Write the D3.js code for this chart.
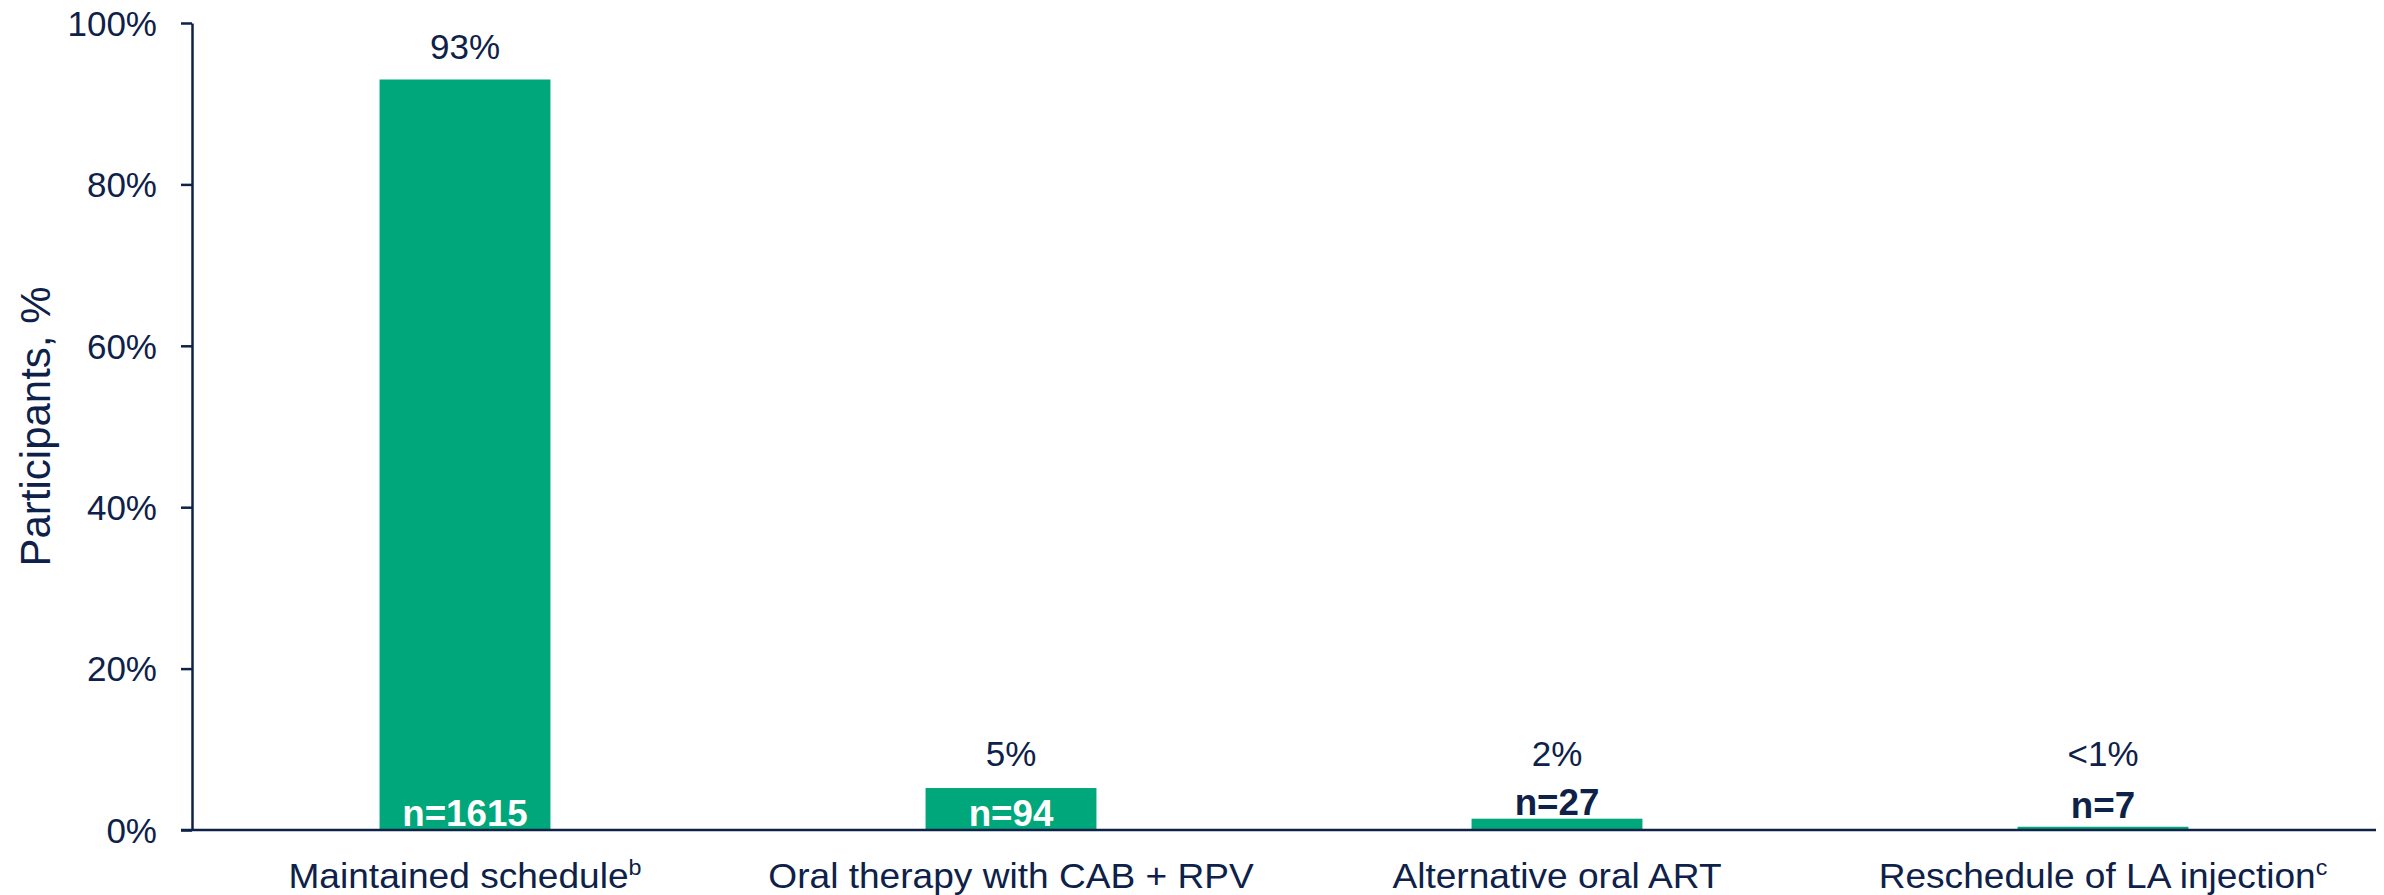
<!DOCTYPE html>
<html>
<head>
<meta charset="utf-8">
<script src="https://cdn.jsdelivr.net/npm/d3@7"></script>
<style>
  html, body { margin: 0; padding: 0; background: #ffffff; }
  svg { display: block; }
  text { font-family: "Liberation Sans", Arial, Helvetica, sans-serif; }
</style>
</head>
<body>
<svg id="chart" width="2384" height="895"></svg>
<script>
const categories = ["Maintained schedule", "Oral therapy with CAB + RPV", "Alternative oral ART", "Reschedule of LA injection"];
const superscripts = ["b", "", "", "c"];
const values = [93, 5.2, 1.4, 0.4];
const valueLabels = ["93%", "5%", "2%", "<1%"];
const nLabels = ["n=1615", "n=94", "n=27", "n=7"];
const yTicks = [0, 20, 40, 60, 80, 100];
const yTitle = "Participants, %";

const NAVY = "#0e2149";
const GREEN = "#00a77a";

const svg = d3.select("#chart");

const x = d3.scaleBand()
  .domain(categories)
  .range([192, 2376])
  .paddingInner(0.687)
  .paddingOuter(0.3435);

const y = d3.scaleLinear().domain([0, 100]).range([830, 23]);

// Bars
svg.append("g").selectAll("rect")
  .data(categories)
  .join("rect")
  .attr("x", d => x(d))
  .attr("width", x.bandwidth())
  .attr("y", (d, i) => y(values[i]))
  .attr("height", (d, i) => y(0) - y(values[i]))
  .attr("fill", GREEN);

// Y axis
const yAxis = d3.axisLeft(y)
  .tickValues(yTicks)
  .tickFormat(d => d + "%")
  .tickSize(11)
  .tickSizeOuter(0)
  .tickPadding(24);

const yg = svg.append("g")
  .attr("transform", "translate(192,0)")
  .call(yAxis);
yg.select(".domain").attr("stroke", NAVY).attr("stroke-width", 2.5);
yg.selectAll(".tick line").attr("stroke", NAVY).attr("stroke-width", 2.5);
yg.selectAll(".tick text")
  .attr("fill", NAVY)
  .attr("font-size", 35)
  .attr("dy", "0.35em")
  .style("font-family", "'Liberation Sans', Arial, sans-serif");

// X axis (baseline line)
const xAxis = d3.axisBottom(x).tickSize(0).tickSizeOuter(0).tickFormat("");
const xg = svg.append("g")
  .attr("transform", `translate(0,${y(0)})`)
  .call(xAxis);
xg.select(".domain").remove();
svg.append("line")
  .attr("x1", 181).attr("x2", 2376)
  .attr("y1", y(0)).attr("y2", y(0))
  .attr("stroke", NAVY).attr("stroke-width", 2.5);

// Category labels with superscripts
const cat = svg.append("g").selectAll("g")
  .data(categories)
  .join("g")
  .attr("transform", d => `translate(${x(d) + x.bandwidth() / 2},888) scale(1.06,1)`);
const ct = cat.append("text")
  .attr("text-anchor", "middle")
  .attr("fill", NAVY)
  .attr("font-size", 35);
ct.append("tspan").text(d => d);
ct.append("tspan")
  .attr("font-size", 22)
  .attr("dy", -13)
  .text((d, i) => superscripts[i]);

// n labels
svg.append("g").selectAll("g")
  .data(categories)
  .join("g")
  .attr("transform", (d, i) => {
    const top = y(values[i]);
    const inside = (y(0) - top) > 40;
    const by = inside ? y(0) - 4 : Math.min(top - 4, 818);
    return `translate(${x(d) + x.bandwidth() / 2},${by}) scale(1.02,1)`;
  })
  .append("text")
  .attr("text-anchor", "middle")
  .attr("font-size", 36)
  .attr("font-weight", "bold")
  .attr("fill", (d, i) => (y(0) - y(values[i])) > 40 ? "#ffffff" : NAVY)
  .text((d, i) => nLabels[i]);

// Value labels
svg.append("g").selectAll("text")
  .data(categories)
  .join("text")
  .attr("x", d => x(d) + x.bandwidth() / 2)
  .attr("y", (d, i) => Math.min(y(values[i]) - 20, 766))
  .attr("text-anchor", "middle")
  .attr("font-size", 35)
  .attr("fill", NAVY)
  .text((d, i) => valueLabels[i]);

// Y title
svg.append("text")
  .attr("transform", `translate(50,${(y(0) + y(100)) / 2}) rotate(-90)`)
  .attr("text-anchor", "middle")
  .attr("font-size", 42)
  .attr("fill", NAVY)
  .text(yTitle);
</script>
</body>
</html>
